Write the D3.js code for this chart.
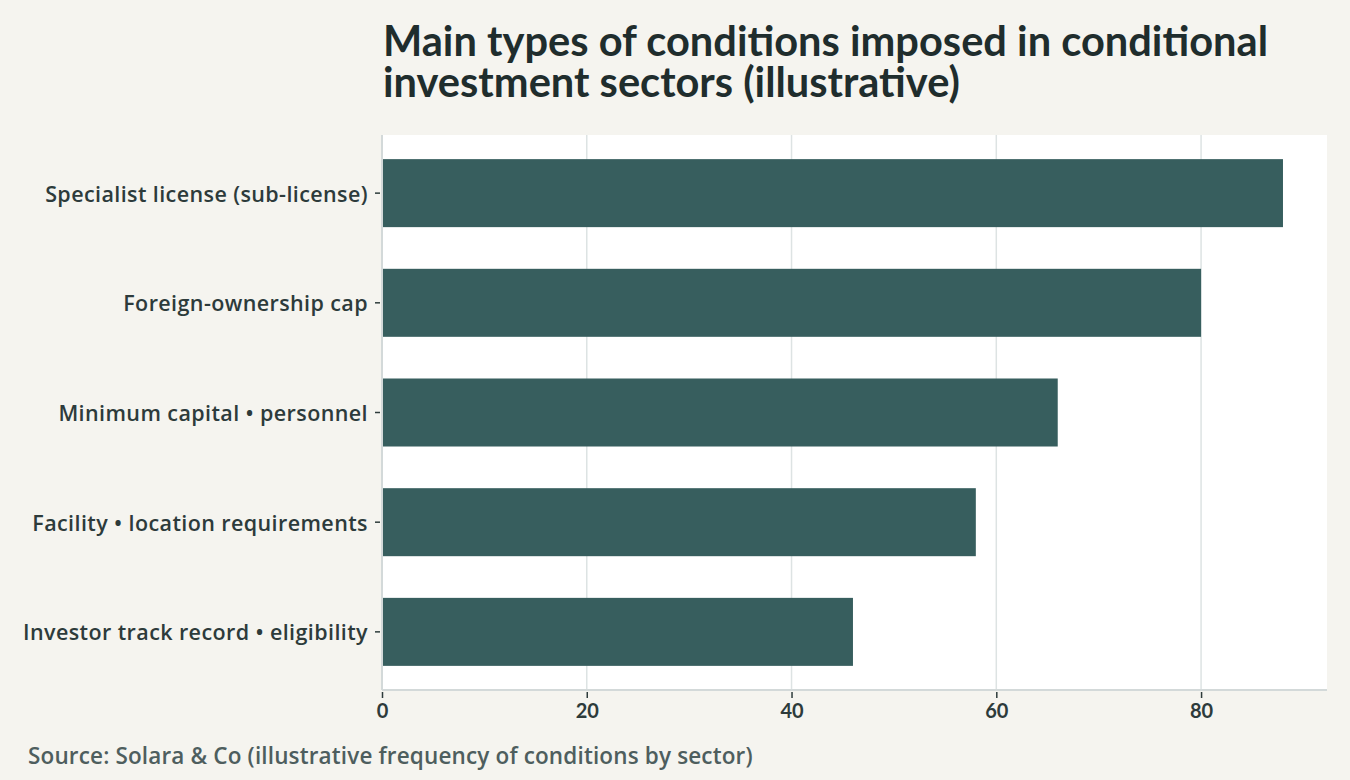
<!DOCTYPE html>
<html>
<head>
<meta charset="utf-8">
<script src="https://d3js.org/d3.v7.min.js"></script>
<style>
  body { margin: 0; background: #f5f4ef; }
  svg { display: block; font-family: "Source Sans Pro", Lato, "Noto Sans", sans-serif; }
</style>
</head>
<body>
<script>
// chart data
var categories = [
  "Specialist license (sub-license)",
  "Foreign-ownership cap",
  "Minimum capital \u2022 personnel",
  "Facility \u2022 location requirements",
  "Investor track record \u2022 eligibility"
];
var counts = [88, 80, 66, 58, 46];
var xTicks = [0, 20, 40, 60, 80];

var width = 1350, height = 780;
var margin = {top: 135, right: 23, bottom: 90, left: 382};
var labelFont = "\"Open Sans\", Lato, sans-serif";

var svg = d3.select("body").append("svg")
  .attr("width", width)
  .attr("height", height);

svg.append("rect").attr("width", width).attr("height", height).attr("fill", "#f5f4ef");

// title, two lines
var titleLines = ["Main types of conditions imposed in conditional", "investment sectors (illustrative)"];
svg.selectAll(".title")
  .data(titleLines)
  .join("text")
  .attr("class", "title")
  .attr("x", 383)
  .attr("y", (d, i) => 56 + i * 41)
  .style("font-size", "41.6px")
  .style("font-weight", "bold")
  .style("fill", "#1f2d2d")
  .text(d => d);

var x = d3.scaleLinear()
  .domain([0, 92.3])
  .range([margin.left, width - margin.right]);

var y = d3.scaleBand()
  .domain(categories)
  .range([margin.top, height - margin.bottom])
  .paddingInner(0.38)
  .paddingOuter(0.22);

// plot background
svg.append("rect")
  .attr("x", margin.left)
  .attr("y", margin.top)
  .attr("width", width - margin.right - margin.left)
  .attr("height", height - margin.bottom - margin.top)
  .attr("fill", "#ffffff");

// gridlines
svg.append("g")
  .selectAll("line")
  .data(xTicks.slice(1))
  .join("line")
  .attr("x1", d => x(d)).attr("x2", d => x(d))
  .attr("y1", margin.top).attr("y2", height - margin.bottom)
  .attr("stroke", "#dde3e3")
  .attr("stroke-width", 1.5);

// bars
svg.append("g")
  .selectAll("rect")
  .data(counts)
  .join("rect")
  .attr("x", x(0))
  .attr("y", (d, i) => y(categories[i]))
  .attr("width", d => x(d) - x(0))
  .attr("height", y.bandwidth())
  .attr("fill", "#375e5e");

// x axis
var xAxis = svg.append("g")
  .attr("transform", "translate(0," + (height - margin.bottom) + ")")
  .call(d3.axisBottom(x).tickValues(xTicks).tickSize(6).tickPadding(8));
xAxis.select(".domain").attr("stroke", "#d3d9d9").attr("stroke-width", 2)
  .attr("d", "M" + margin.left + ",0H" + (width - margin.right));
xAxis.selectAll(".tick line").attr("stroke", "#2d3b3b").attr("stroke-width", 1.5).attr("y1", 2).attr("y2", 8);
xAxis.selectAll(".tick text")
  .style("font-size", "20px")
  .style("font-weight", "bold")
  .style("fill", "#2d3b3b")
  .style("font-family", "Lato, sans-serif");

// y axis
var yAxis = svg.append("g")
  .attr("transform", "translate(" + margin.left + ",0)")
  .call(d3.axisLeft(y).tickSize(5).tickPadding(9));
yAxis.select(".domain").attr("stroke", "#d3d9d9").attr("stroke-width", 2)
  .attr("d", "M0," + margin.top + "V" + (height - margin.bottom));
yAxis.selectAll(".tick line").attr("stroke", "#2d3b3b").attr("stroke-width", 1.5).attr("x1", -2).attr("x2", -7);
yAxis.selectAll(".tick text")
  .attr("dy", "0.4em")
  .style("font-size", "21.5px")
  .style("font-weight", "600")
  .style("letter-spacing", "0.4px")
  .style("fill", "#2d3b3b")
  .style("font-family", labelFont);

// source
svg.append("text")
  .attr("x", 28)
  .attr("y", 764)
  .style("font-size", "22.5px")
  .style("font-weight", "600")
  .style("letter-spacing", "0.15px")
  .style("fill", "#4e5e5e")
  .style("font-family", labelFont)
  .text("Source: Solara & Co (illustrative frequency of conditions by sector)");
</script>
</body>
</html>
